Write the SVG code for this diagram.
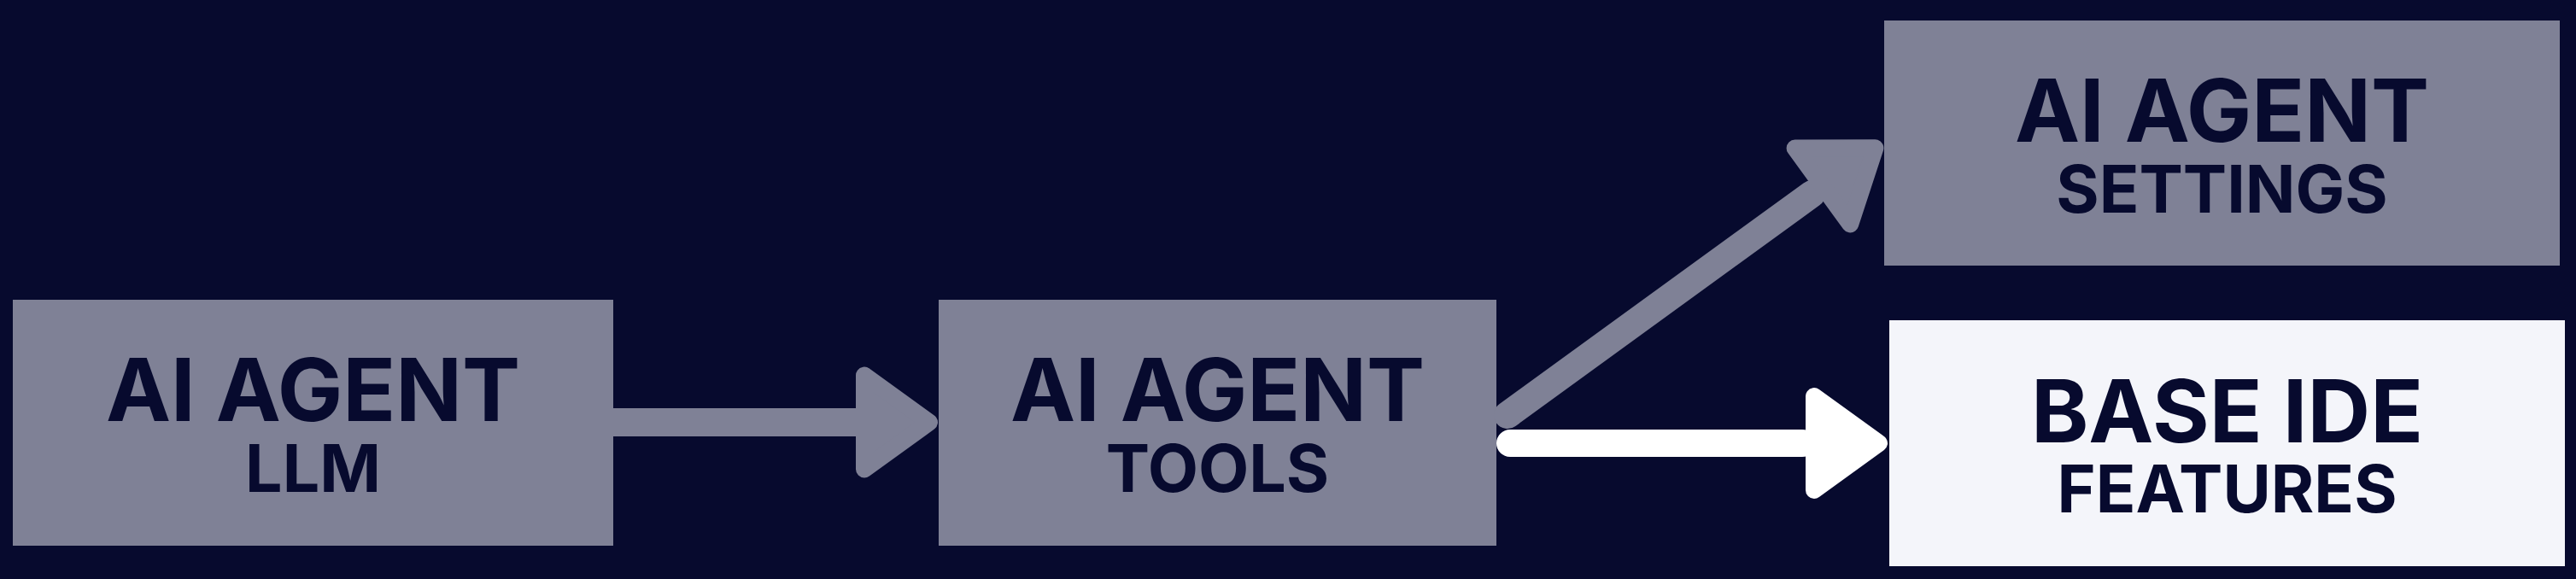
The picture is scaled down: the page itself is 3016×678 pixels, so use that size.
<svg xmlns="http://www.w3.org/2000/svg" xmlns:xlink="http://www.w3.org/1999/xlink" width="3016" height="678" viewBox="0 0 3016 678">
<style>
.bg{fill:#070A2E}
.box{fill:#7F8196}
.wbox{fill:#F4F5FA}
.t1{font-family:Inter,"Liberation Sans",sans-serif;font-weight:700;font-size:102px;fill:#070A2E;text-anchor:middle}
.t2{font-family:Inter,"Liberation Sans",sans-serif;font-weight:700;font-size:77px;fill:#070A2E;text-anchor:middle}
.shaft-g{stroke:#7F8196;stroke-width:32;stroke-linecap:round;fill:none}
.shaft-w{stroke:#FFFFFF;stroke-width:32;stroke-linecap:round;fill:none}
.head-g{fill:#7F8196;stroke:#7F8196;stroke-width:20;stroke-linejoin:round}
.head-w{fill:#FFFFFF;stroke:#FFFFFF;stroke-width:20;stroke-linejoin:round}
</style>
<defs>
<polygon id="head" points="-10,0 -86,-55 -86,55"/>
</defs>
<rect class="bg" x="0" y="0" width="3016" height="678"/>
<g id="node-llm">
<rect class="box" x="15" y="351" width="703" height="288"/>
<text class="t1" x="366.5" y="493">AI AGENT</text>
<text class="t2" x="366.5" y="576">LLM</text>
</g>
<g id="node-tools">
<rect class="box" x="1099" y="351" width="653" height="288"/>
<text class="t1" x="1425.5" y="493">AI AGENT</text>
<text class="t2" x="1425.5" y="576">TOOLS</text>
</g>
<g id="node-settings">
<rect class="box" x="2206" y="24" width="791" height="287"/>
<text class="t1" x="2601.5" y="165.5">AI AGENT</text>
<text class="t2" x="2601.5" y="248.5">SETTINGS</text>
</g>
<g id="node-base">
<rect class="wbox" x="2212" y="375" width="791" height="288"/>
<text class="t1" x="2607.5" y="517.5">BASE IDE</text>
<text class="t2" x="2607.5" y="600">FEATURES</text>
</g>
<g id="connectors">
<g id="edge-llm-tools">
<rect x="718" y="478" width="292" height="33" fill="#7F8196"/>
<use xlink:href="#head" class="head-g" transform="translate(1098,494.5)"/>
</g>
<g id="edge-tools-settings" transform="translate(1765,486) rotate(-36)">
<line class="shaft-g" x1="0" y1="0" x2="440" y2="0"/>
<use xlink:href="#head" class="head-g" transform="translate(542,0)"/>
</g>
<g id="edge-tools-base">
<line class="shaft-w" x1="1768" y1="519" x2="2110" y2="519"/>
<use xlink:href="#head" class="head-w" transform="translate(2210,519)"/>
</g>
</g>
</svg>
